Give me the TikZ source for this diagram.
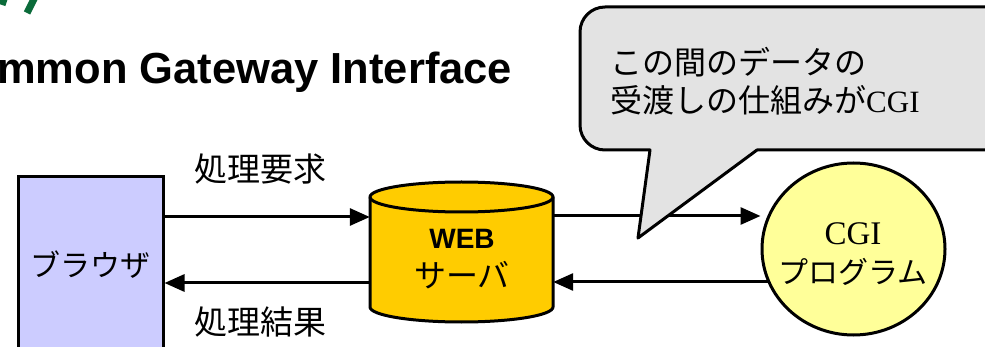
\documentclass[tikz,border=0pt]{standalone}
\usepackage{fontspec}
\setmainfont{Liberation Serif}
\setsansfont{Liberation Sans}
\newfontfamily\jp{Noto Sans CJK JP}
\usetikzlibrary{arrows.meta,calc,shapes.geometric}
\definecolor{lav}{HTML}{CCCCFF}
\definecolor{gold}{HTML}{FFCC00}
\definecolor{cgiY}{HTML}{FFFF99}
\definecolor{bubG}{HTML}{E3E3E3}
\definecolor{gmk}{HTML}{0B6B3A}
\tikzset{
  shapeline/.style={draw=black, line width=3pt},
  arr/.style={line width=3pt, -{Triangle[length=20pt,width=17pt]}},
  lab/.style={inner sep=0pt, font=\jp\fontsize{33}{33}\selectfont},
  gmark/.style={draw=gmk, line width=7pt},
}
\begin{document}
\begin{tikzpicture}[x=1pt,y=-1pt]
\useasboundingbox (0,0) rectangle (985,347);
\clip (0,0) rectangle (985,347);
\fill[white] (0,0) rectangle (985,347);
% green fragments
\draw[gmark] (5,-4) -- (2,5);
\draw[gmark] (35,-3) -- (27,13);
% title
\node[anchor=base west, inner sep=0pt, font=\sffamily\bfseries\fontsize{43.5}{43.5}\selectfont] (title) at (-3,84) {mmon Gateway Interface};
% browser
\node[shapeline, fill=lav, minimum width=145pt, minimum height=176pt, inner sep=0pt, font=\jp\fontsize{30}{30}\selectfont] (browser) at (90.5,265) {ブラウザ};
% web server cylinder
\node[minimum width=183pt, minimum height=140pt, inner sep=0pt] (web) at (461.5,252) {};
\filldraw[shapeline, fill=gold] (370,197) -- (370,307) arc[start angle=180, end angle=360, x radius=91.5pt, y radius=15pt] -- (553,197) arc[start angle=0, end angle=180, x radius=91.5pt, y radius=15pt] -- cycle;
\draw[shapeline] (370,197) arc[start angle=180, end angle=360, x radius=91.5pt, y radius=15pt];
\node[inner sep=0pt, font=\sffamily\bfseries\fontsize{28}{28}\selectfont] (webA) at (462,239) {WEB};
\node[inner sep=0pt, font=\jp\fontsize{32}{32}\selectfont] (webB) at (462,275) {サーバ};
% CGI program
\node[ellipse, shapeline, fill=cgiY, minimum width=183pt, minimum height=172pt, inner sep=0pt] (cgi) at (853.5,249) {};
\node[inner sep=0pt, font=\rmfamily\fontsize{33}{33}\selectfont] (cgiA) at (853,234) {CGI};
\node[inner sep=0pt, font=\jp\fontsize{30}{30}\selectfont] (cgiB) at (853,272) {プログラム};
% arrows
\draw[arr] (browser.east |- 0,217) -- (web.west |- 0,217);
\draw[arr] (web.west |- 0,283) -- (browser.east |- 0,283);
\draw[arr] (web.east |- 0,216) -- (cgi.west |- 0,216);
\draw[arr] ($(cgi.west |- 0,282)+(7,0)$) -- (web.east |- 0,282);
% labels
\node[lab] (req) at (260,169) {処理要求};
\node[lab] (res) at (260,322) {処理結果};
% speech bubble
\filldraw[shapeline, fill=bubG, line join=round] (650,150) -- (638,238) -- (757,150) -- (1010,150) -- (1010,7) -- (605,7) arc[start angle=90, end angle=180, radius=25pt] -- (580,125) arc[start angle=180, end angle=270, radius=25pt] -- cycle;
\node[anchor=west, align=left, inner sep=0pt, font=\jp\fontsize{32}{38}\selectfont] (bubtext) at (610,81) {この間のデータの\\受渡しの仕組みが{\rmfamily\fontsize{31}{38}\selectfont CGI}};
\end{tikzpicture}
\end{document}
